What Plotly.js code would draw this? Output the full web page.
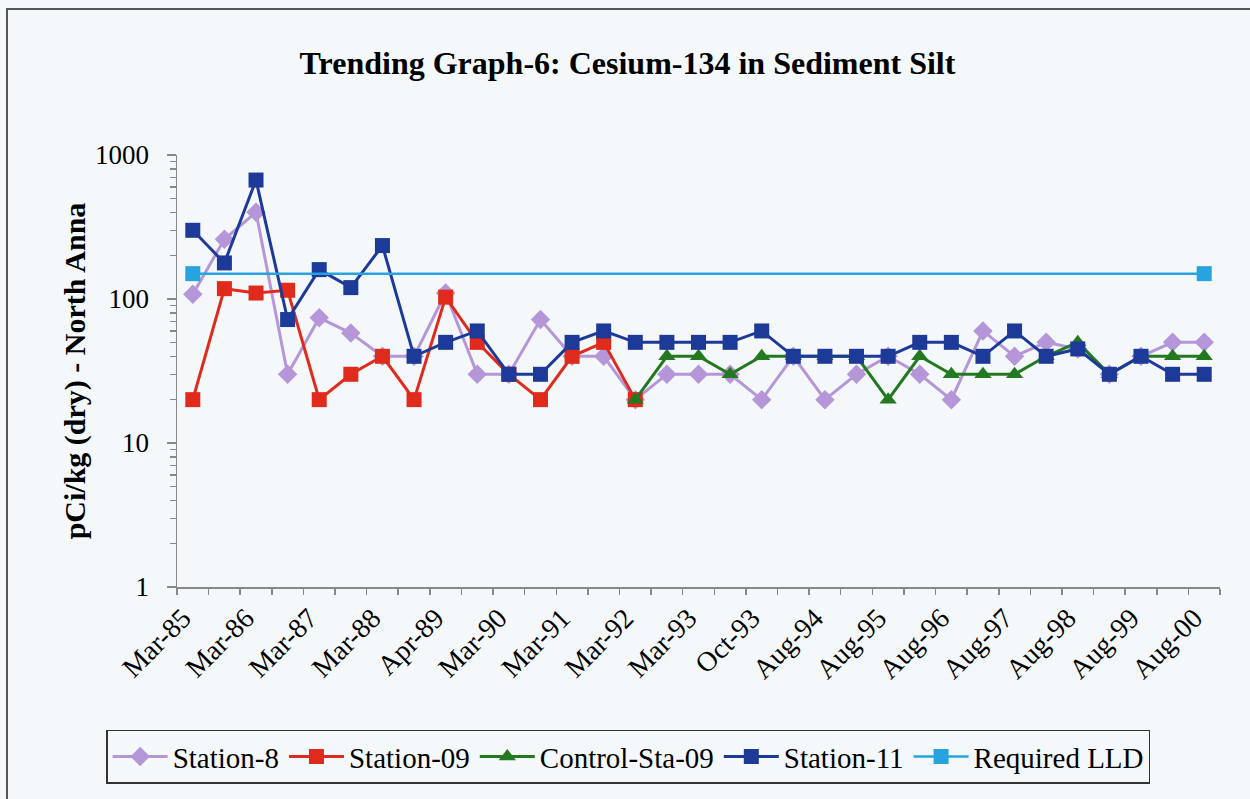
<!DOCTYPE html>
<html>
<head>
<meta charset="utf-8">
<script src="https://cdn.plot.ly/plotly-3.0.1.min.js"></script>
<style>
  html, body { margin: 0; padding: 0; background: #F5F8FA; overflow: hidden; }
  #chart { width: 1250px; height: 799px; }
  #frame { position: absolute; left: 6px; top: 8px; width: 1300px; height: 900px;
           border-left: 2px solid #555; border-top: 2px solid #555; pointer-events: none; }
</style>
</head>
<body>
<div id="chart"></div>
<div id="frame"></div>
<script>
// Tick labels shown on every second sampling period
const tickLabels = ['Mar-85','Mar-86','Mar-87','Mar-88','Apr-89','Mar-90','Mar-91','Mar-92',
                    'Mar-93','Oct-93','Aug-94','Aug-95','Aug-96','Aug-97','Aug-98','Aug-99','Aug-00'];
const sampleCount = 33;

// Series values, pCi/kg (dry); null = no sample
const station8 = [108, 260, 400, 30, 74, 58, 40, 40, 110, 30, 30, 72, 40, 40, 20, 30, 30,
                  30, 20, 40, 20, 30, 40, 30, 20, 60, 40, 50, 45, 30, 40, 50, 50];
const station09 = [20, 118, 110, 115, 20, 30, 40, 20, 103, 50, 30, 20, 40, 50, 20, null, null,
                   null, null, null, null, null, null, null, null, null, null, null, null, null, null, null, null];
const controlSta09 = [null, null, null, null, null, null, null, null, null, null, null, null, null, null, 20, 40, 40,
                      30, 40, 40, 40, 40, 20, 40, 30, 30, 30, 40, 50, 30, 40, 40, 40];
const station11 = [300, 178, 670, 72, 160, 120, 235, 40, 50, 60, 30, 30, 50, 60, 50, 50, 50,
                   50, 60, 40, 40, 40, 40, 50, 50, 40, 60, 40, 45, 30, 40, 30, 30];
const requiredLLD = [150, null, null, null, null, null, null, null, null, null, null, null, null, null, null, null, null,
                     null, null, null, null, null, null, null, null, null, null, null, null, null, null, null, 150];

const xIdx = Array.from({length: sampleCount}, (_, i) => i);
const tickIdx = tickLabels.map((_, i) => i * 2);
const boundaries = Array.from({length: sampleCount + 1}, (_, i) => i - 0.5);

const serif = 'Liberation Serif, Times New Roman, serif';

function series(name, y, color, symbol, size, extra) {
  return Object.assign({
    type: 'scatter', mode: 'lines+markers', name: name, x: xIdx, y: y,
    line: {color: color, width: 3},
    marker: {color: color, symbol: symbol, size: size},
    connectgaps: false
  }, extra || {});
}

const traces = [
  series('Station-8', station8, '#B596D9', 'diamond', 15),
  series('Station-09', station09, '#DF2A1C', 'square', 15),
  series('Control-Sta-09', controlSta09, '#23791F', 'triangle-up', 15),
  series('Station-11', station11, '#1D3A98', 'square', 15),
  series('Required LLD', requiredLLD, '#27A3E0', 'square', 15, {connectgaps: true, line: {color: '#27A3E0', width: 2.5}})
];

const layout = {
  width: 1250, height: 799,
  paper_bgcolor: 'rgba(0,0,0,0)', plot_bgcolor: 'rgba(0,0,0,0)',
  margin: {l: 177, r: 30, t: 155, b: 212},
  showlegend: true,
  title: {
    text: '<b>Trending Graph-6: Cesium-134 in Sediment Silt</b>',
    font: {family: serif, size: 32, color: '#000'},
    xref: 'container', x: 0.502, xanchor: 'center',
    yref: 'container', y: 0.922, yanchor: 'middle'
  },
  xaxis: {
    range: [-0.5, 32.5], showgrid: false, zeroline: false,
    showline: true, linecolor: '#888', linewidth: 1.5,
    tickmode: 'array', tickvals: tickIdx, ticktext: tickLabels,
    ticks: '', tickangle: -45, ticklabelshift: -10, ticklabelstandoff: 2,
    tickfont: {family: serif, size: 28, color: '#000'},
    minor: {tickmode: 'array', tickvals: boundaries, ticks: 'outside', ticklen: 6,
            tickcolor: '#888', tickwidth: 1.5, showgrid: false}
  },
  yaxis: {
    type: 'log', range: [0, 3], showgrid: false, zeroline: false,
    showline: true, linecolor: '#888', linewidth: 1.5,
    tickmode: 'array', tickvals: [1, 10, 100, 1000], ticktext: ['1', '10', '100', '1000'],
    ticks: 'outside', ticklen: 9, tickcolor: '#888', tickwidth: 1.5,
    ticklabelstandoff: 12,
    tickfont: {family: serif, size: 27, color: '#000'},
    minor: {tickmode: 'linear', dtick: 'D1', ticks: 'outside', ticklen: 6,
            tickcolor: '#888', tickwidth: 1.5, showgrid: false},
    title: {text: '<b>pCi/kg (dry) - North Anna</b>', font: {family: serif, size: 30, color: '#000'}, standoff: 0}
  },
  legend: {
    orientation: 'h',
    xref: 'container', x: 0.5025, xanchor: 'center',
    yref: 'container', y: 0.053, yanchor: 'middle',
    font: {family: serif, size: 29, color: '#000'},
    bgcolor: 'rgba(0,0,0,0)', bordercolor: '#333', borderwidth: 1.5,
    itemwidth: 55, traceorder: 'normal'
  }
};

Plotly.newPlot('chart', traces, layout, {displayModeBar: false, staticPlot: true});
</script>
</body>
</html>
